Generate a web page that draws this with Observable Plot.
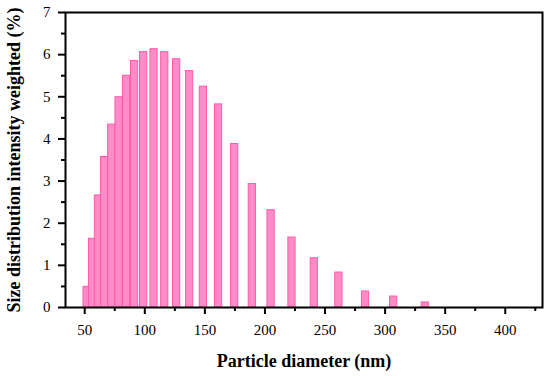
<!DOCTYPE html>
<html>
<head>
<meta charset="utf-8">
<script src="https://cdn.jsdelivr.net/npm/d3@7"></script>
<script src="https://cdn.jsdelivr.net/npm/@observablehq/plot@0.6"></script>
<style>
  html, body { margin: 0; padding: 0; background: #fff; }
  #chart svg { display: block; }
  #chart svg text { font-family: 'Liberation Serif', 'Times New Roman', serif; font-variant: normal; }
</style>
</head>
<body>
<div id="chart"></div>
<script>
// Particle diameter bin centres (nm)
const diameters = [52.0, 56.5, 61.4, 66.6, 72.5, 78.6, 84.8, 91.5, 99.0, 107.7, 116.6, 126.5,
  137.3, 148.8, 161.4, 174.8, 189.5, 205.1, 222.5, 241.1, 261.5, 283.7, 307.1, 333.4];
// Size distribution intensity weighted (%)
const intensities = [0.49, 1.63, 2.66, 3.57, 4.34, 4.99, 5.50, 5.85, 6.06, 6.13, 6.06, 5.89,
  5.61, 5.24, 4.82, 3.88, 2.93, 2.31, 1.66, 1.17, 0.83, 0.38, 0.26, 0.12];
const xMajorTicks = [50, 100, 150, 200, 250, 300, 350, 400];
const xMinorTicks = [75, 125, 175, 225, 275, 325, 375, 425];
const yMajorTicks = [0, 1, 2, 3, 4, 5, 6, 7];
const yMinorTicks = [0.5, 1.5, 2.5, 3.5, 4.5, 5.5, 6.5];
const xLabel = "Particle diameter (nm)";
const yLabel = "Size distribution intensity weighted (%)";

const data = diameters.map((d, i) => ({d, v: intensities[i]}));
const halfWidth = 3; // bar half-width in nm
const serif = "'Liberation Serif', 'Times New Roman', serif";

const chart = Plot.plot({
  width: 550,
  height: 376,
  marginLeft: 65,
  marginRight: 8,
  marginTop: 12,
  marginBottom: 69,
  style: {fontFamily: serif, fontSize: "15px", color: "#000", background: "#fff"},
  x: {domain: [34, 431]},
  y: {domain: [0, 7]},
  marks: [
    Plot.rectY(data, {
      x1: d => d.d - halfWidth,
      x2: d => d.d + halfWidth,
      y: "v",
      fill: "#ff8cc6",
      stroke: "#ff5aae",
      strokeWidth: 1
    }),
    Plot.axisX({ticks: xMajorTicks, tickFormat: d => String(d), tickSize: 7, tickPadding: 10, strokeWidth: 2, stroke: "#000", label: null, fontSize: 15, fontFamily: serif}),
    Plot.axisX({ticks: xMinorTicks, tickSize: 4, strokeWidth: 2, stroke: "#000", text: null, label: null}),
    Plot.axisY({ticks: yMajorTicks, tickFormat: d => String(d), tickSize: 7, tickPadding: 8, strokeWidth: 2, stroke: "#000", label: null, fontSize: 15, fontFamily: serif}),
    Plot.axisY({ticks: yMinorTicks, tickSize: 4, strokeWidth: 2, stroke: "#000", text: null, label: null}),
    Plot.frame({stroke: "#000", strokeWidth: 2}),
    Plot.text([xLabel], {frameAnchor: "bottom", dy: 54, text: d => d, fontWeight: "bold", fontSize: 18, fontFamily: serif, lineAnchor: "middle", textAnchor: "middle"}),
    Plot.text([yLabel], {frameAnchor: "left", dx: -51, text: d => d, rotate: -90, fontWeight: "bold", fontSize: 18, fontFamily: serif, lineAnchor: "middle", textAnchor: "middle"})
  ]
});
document.getElementById("chart").appendChild(chart);
</script>
</body>
</html>
